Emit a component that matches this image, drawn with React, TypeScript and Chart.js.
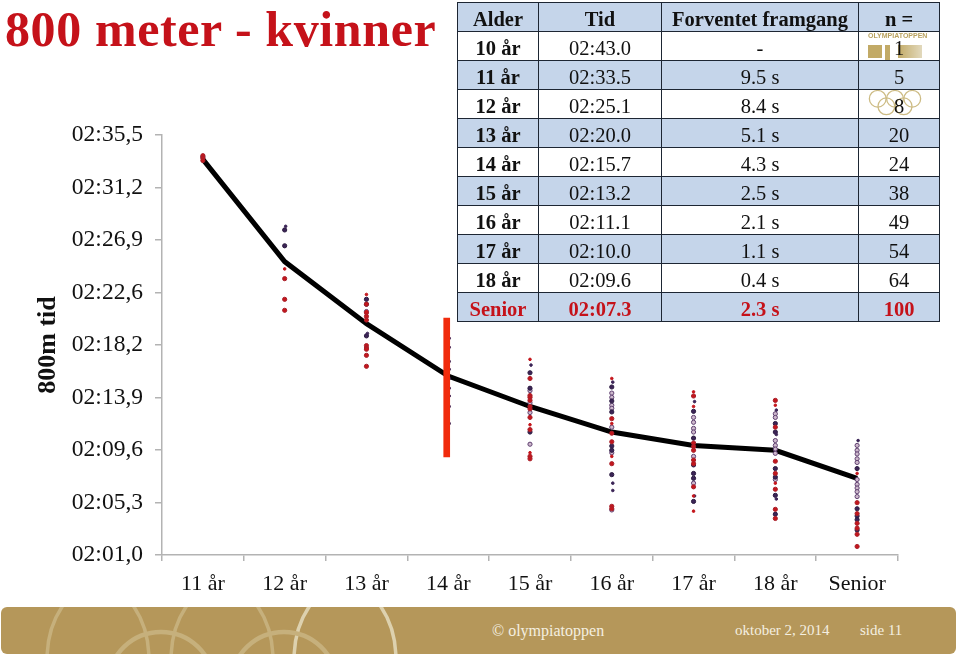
import React, { useEffect, useRef } from "react";
import { Chart, registerables } from "chart.js";

Chart.register(...registerables);

const ages = ["11 år", "12 år", "13 år", "14 år", "15 år", "16 år", "17 år", "18 år", "Senior"];
const yTicks = ["02:01,0", "02:05,3", "02:09,6", "02:13,9", "02:18,2", "02:22,6", "02:26,9", "02:31,2", "02:35,5"];
const meanTimes = [153.5, 145.1, 140.0, 135.7, 133.2, 131.1, 130.0, 129.6, 127.3];
const highlightRange: [number, number] = [129.05, 140.47];

const redLarge = [
  [153.8, 153.6, 153.4],
  [143.7, 142.0, 141.1],
  [141.6, 140.9, 140.6, 140.3, 138.2, 138.0, 137.9, 137.4, 136.5],
  [],
  [135.5, 134.1, 133.95, 133.7, 133.2, 133.0, 132.3, 131.3, 129.1, 128.9],
  [132.2, 131.0, 130.3, 128.5, 125.0, 124.8],
  [134.06, 130.2, 129.9, 129.6, 128.8, 128.5, 126.6],
  [133.7, 131.5, 128.7, 127.7, 126.4, 124.75, 124.0],
  [125.3, 124.4, 123.6, 123.2, 122.7, 121.7],
];
const darkLarge = [
  [153.7],
  [147.7, 146.4],
  [142.0, 141.6, 139.0],
  [],
  [135.97, 134.7, 131.1],
  [134.8, 133.65, 132.75, 129.95, 129.6, 127.6],
  [132.8, 130.6, 128.4, 127.7, 127.3, 125.4],
  [131.8, 131.1, 128.1, 127.4, 125.9, 124.35],
  [128.1, 124.8, 124.2, 123.9, 123.05],
];
const ringPoints = [
  [],
  [],
  [141.0],
  [],
  [134.5, 133.5, 132.7, 130.1],
  [134.3, 133.95, 133.3, 133.05, 131.5, 129.4, 124.7],
  [132.3, 131.9, 131.4, 131.1, 129.1, 126.9],
  [132.6, 132.3, 130.4, 130.0, 129.7, 129.35, 127.2],
  [130.0, 129.6, 129.3, 128.9, 128.6, 127.2, 126.8, 126.5, 126.2, 125.8],
];
const redSmall = [
  [],
  [144.5],
  [142.4, 141.0],
  [],
  [137.07, 131.7, 129.4],
  [135.5, 131.8, 129.1],
  [134.4, 133.2, 125.85, 124.6],
  [133.3, 126.9],
  [127.7],
];
const darkSmall = [
  [],
  [148.0],
  [139.2],
  [138.8, 138.06, 136.9, 136.25, 135.5, 134.7, 134.06, 133.2, 131.8],
  [136.6],
  [135.2, 126.9, 126.3],
  [133.6, 125.85],
  [132.9, 130.9, 125.6],
  [130.4],
];

const tableHeader = ["Alder", "Tid", "Forventet framgang", "n ="];
const tableAges = ["10 år", "11 år", "12 år", "13 år", "14 år", "15 år", "16 år", "17 år", "18 år", "Senior"];
const tableTimes = ["02:43.0", "02:33.5", "02:25.1", "02:20.0", "02:15.7", "02:13.2", "02:11.1", "02:10.0", "02:09.6", "02:07.3"];
const tableGains = ["-", "9.5 s", "8.4 s", "5.1 s", "4.3 s", "2.5 s", "2.1 s", "1.1 s", "0.4 s", "2.3 s"];
const tableCounts = ["1", "5", "8", "20", "24", "38", "49", "54", "64", "100"];

const SERIF = '"Liberation Serif", serif';
const RED = "#c4161c";
const DARK = "#3b2456";
const AXIS = "#b3b3b3";

const toPoints = (groups: number[][]) =>
  groups.flatMap((values, i) => values.map((y) => ({ x: ages[i], y })));

const nudge = {
  id: "nudge",
  beforeDatasetDraw(chart: any, args: any) {
    const dx = chart.data.datasets[args.index].nudgeX;
    if (dx) {
      chart.ctx.save();
      chart.ctx.translate(dx, 0);
    }
  },
  afterDatasetDraw(chart: any, args: any) {
    if (chart.data.datasets[args.index].nudgeX) chart.ctx.restore();
  },
};

function dots(label: string, groups: number[][], bg: string, border: string, r: number, order: number, extra: any = {}) {
  return {
    type: "line" as const,
    label,
    data: toPoints(groups),
    showLine: false,
    pointRadius: r,
    pointBorderWidth: 1,
    pointBackgroundColor: bg,
    pointBorderColor: border,
    order,
    ...extra,
  };
}

function OlympicRings({ style, color, width }: { style: React.CSSProperties; color: string; width: number }) {
  return (
    <svg viewBox="0 0 100 50" style={{ position: "absolute", ...style }}>
      {[18, 50, 82, 34, 66].map((cx, i) => (
        <circle key={i} cx={cx} cy={i < 3 ? 18 : 32} r={15.5} fill="none" stroke={color} strokeWidth={width} />
      ))}
    </svg>
  );
}

export default function App() {
  const ref = useRef<HTMLCanvasElement>(null);

  useEffect(() => {
    const chart = new Chart(ref.current!, {
      type: "bar",
      plugins: [nudge],
      data: {
        labels: ages,
        datasets: [
          {
            type: "bar",
            label: "14 år",
            data: ages.map((a) => (a === "14 år" ? highlightRange : null)) as any,
            backgroundColor: "#f12b0c",
            barThickness: 6,
            order: 0,
            nudgeX: -1.5,
          } as any,
          dots("small red", redSmall, RED, RED, 1.3, 2),
          dots("small dark", darkSmall, DARK, DARK, 1.3, 2, { nudgeX: 1 }),
          dots("red", redLarge, RED, "#a8202a", 2.1, 3),
          dots("dark", darkLarge, DARK, "#2b1a40", 2.1, 3),
          dots("ring", ringPoints, "#cdb8cc", "#5f4070", 2.1, 4),
          {
            type: "line",
            label: "Snitt",
            data: meanTimes,
            borderColor: "#000",
            borderWidth: 5,
            pointRadius: 0,
            tension: 0,
            order: 10,
          } as any,
        ],
      },
      options: {
        responsive: false,
        animation: false,
        layout: { padding: { left: 0, top: 135, right: 62, bottom: 62 } },
        plugins: { legend: { display: false }, tooltip: { enabled: false } },
        scales: {
          x: {
            type: "category",
            offset: true,
            afterFit: (s: any) => { s.height = 40; },
            border: { color: AXIS, width: 1.5 },
            grid: { display: true, drawOnChartArea: false, color: AXIS, lineWidth: 1.5, tickLength: 6, offset: true },
            ticks: { color: "#111", padding: 10, maxRotation: 0, autoSkip: false, font: { family: SERIF, size: 22 } },
          },
          y: {
            type: "linear",
            min: 121,
            max: 155.5,
            afterBuildTicks: (s: any) => {
              s.ticks = yTicks.map((_, i) => ({ value: 121 + (i * 34.5) / 8 }));
            },
            afterFit: (s: any) => { s.width = 162; },
            border: { color: AXIS, width: 1.5 },
            grid: { display: true, drawOnChartArea: false, color: AXIS, lineWidth: 1.5, tickLength: 7 },
            ticks: {
              color: "#111",
              padding: 12,
              font: { family: SERIF, size: 23.5 },
              callback: (_: any, i: number) => yTicks[i],
            },
            title: {
              display: true,
              text: "800m tid",
              color: "#111",
              font: { family: SERIF, size: 26, weight: "bold" },
              padding: { top: 33, bottom: 0 },
            },
          },
        },
      } as any,
    });
    return () => chart.destroy();
  }, []);

  const colWidths = [81, 123, 197, 81];
  const cell = (text: string, i: number, bold: boolean, color: string) => (
    <td
      key={i}
      style={{
        width: colWidths[i],
        padding: "4px 0 0",
        border: "1.5px solid #1d2633",
        textAlign: "center",
        fontWeight: bold ? 700 : 400,
        color,
        lineHeight: "23px",
        boxSizing: "border-box",
      }}
    >
      {text}
    </td>
  );

  return (
    <div style={{ position: "fixed", left: 0, top: 0, width: 960, height: 657, background: "#fff", overflow: "hidden", fontFamily: SERIF }}>
      <canvas ref={ref} width={960} height={657} style={{ position: "absolute", left: 0, top: 0, display: "block" }} />
      <div style={{ position: "absolute", left: 5, top: 0, fontSize: 50, fontWeight: 700, color: "#c5121a", whiteSpace: "nowrap", letterSpacing: 0.6 }}>
        800 meter - kvinner
      </div>

      {/* logos sit under the table's transparent rows */}
      <div style={{ position: "absolute", left: 868, top: 32, width: 54, fontSize: 7, fontWeight: 700, fontFamily: '"Liberation Sans", sans-serif', color: "#b9a25f", whiteSpace: "nowrap" }}>
        OLYMPIATOPPEN
      </div>
      <svg style={{ position: "absolute", left: 868, top: 41, width: 56, height: 20 }}>
        <defs>
          <linearGradient id="fade" x1="0" x2="1" y1="0" y2="0">
            <stop offset="0" stopColor="#c2aa66" />
            <stop offset="1" stopColor="#e2d9bd" />
          </linearGradient>
        </defs>
        <rect x="0" y="4" width="14" height="13" fill="#c2aa66" />
        <rect x="17" y="4" width="5" height="16" fill="#c2aa66" />
        <rect x="30" y="4" width="24" height="13" fill="url(#fade)" />
      </svg>
      <OlympicRings style={{ left: 868, top: 89, width: 54, height: 27 }} color="#cdbc85" width={2.4} />

      <table style={{ position: "absolute", left: 457, top: 2, width: 482, height: 319, borderCollapse: "collapse", tableLayout: "fixed", fontSize: 20.5 }}>
        <tbody>
          <tr style={{ background: "#c5d5ea", height: 29 }}>
            {tableHeader.map((h, i) => cell(h, i, true, "#111"))}
          </tr>
          {tableAges.map((age, r) => {
            const senior = age === "Senior";
            const color = senior ? "#c5121a" : "#111";
            return (
              <tr key={age} style={{ background: r % 2 === 0 ? "transparent" : "#c5d5ea", height: 29 }}>
                {cell(age, 0, true, color)}
                {cell(tableTimes[r], 1, senior, color)}
                {cell(tableGains[r], 2, senior, color)}
                {cell(tableCounts[r], 3, senior, color)}
              </tr>
            );
          })}
        </tbody>
      </table>

      {/* footer band */}
      <div style={{ position: "absolute", left: 1, top: 607, width: 955, height: 47, background: "#b5975a", borderRadius: 6, overflow: "hidden" }}>
        <svg width={955} height={47} style={{ position: "absolute", left: 0, top: 0 }}>
          <ellipse cx={97} cy={53} rx={51} ry={75} fill="none" stroke="#c6b07c" strokeWidth={3.5} />
          <ellipse cx={221} cy={53} rx={51} ry={75} fill="none" stroke="#c6b07c" strokeWidth={3.5} />
          <ellipse cx={344} cy={53} rx={51} ry={75} fill="none" stroke="#ddd1ae" strokeWidth={3.5} />
          <ellipse cx={160} cy={75} rx={52} ry={50} fill="none" stroke="#c6b07c" strokeWidth={4.5} />
          <ellipse cx={283} cy={75} rx={52} ry={50} fill="none" stroke="#c6b07c" strokeWidth={4.5} />
        </svg>
        <div style={{ position: "absolute", left: 491, top: 15, fontSize: 16, color: "#f4efe0", whiteSpace: "nowrap" }}>© olympiatoppen</div>
        <div style={{ position: "absolute", left: 734, top: 15, fontSize: 15, color: "#f4efe0", whiteSpace: "nowrap" }}>oktober 2, 2014</div>
        <div style={{ position: "absolute", left: 859, top: 15, fontSize: 15, color: "#f4efe0", whiteSpace: "nowrap" }}>side 11</div>
      </div>
    </div>
  );
}
